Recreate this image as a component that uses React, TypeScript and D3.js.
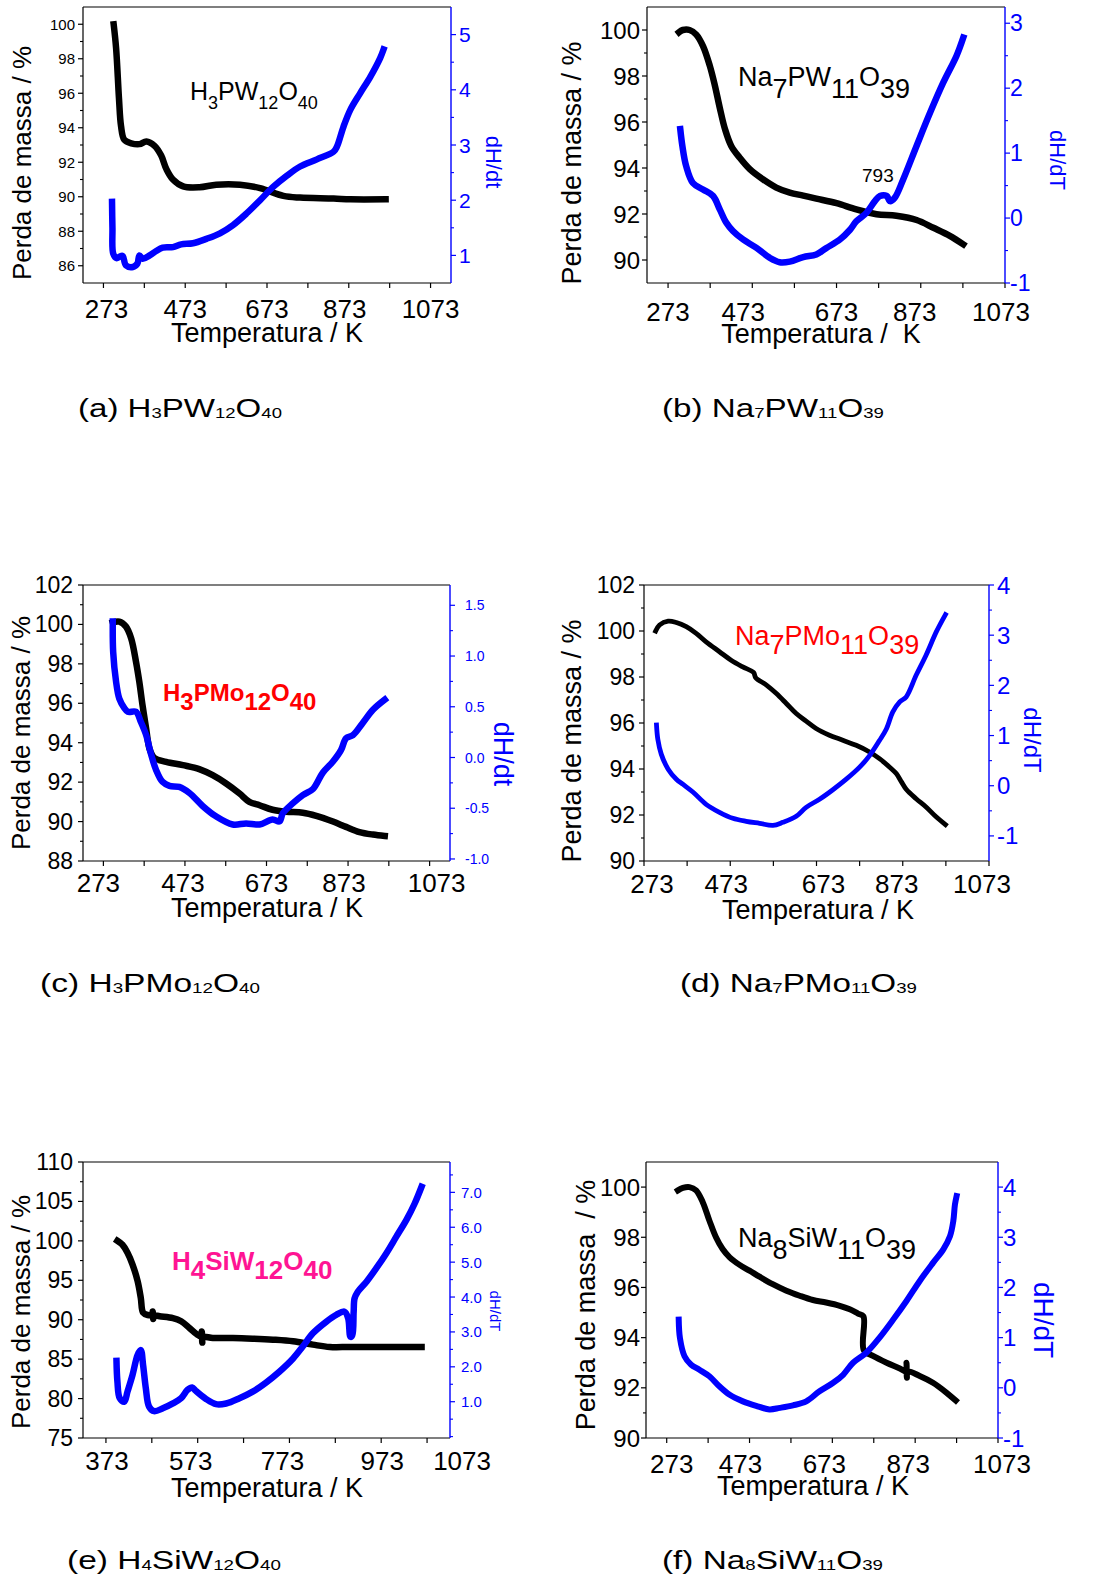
import React, { useLayoutEffect, useRef, useState } from "react";
import * as d3 from "d3";

type Pt = [number, number];

// ---------- (a) H3PW12O40 ----------
const massA: Pt[] = [
  [298, 100.0], [304, 98.6], [311, 95.7], [316, 94.1], [324, 93.3], [341, 93.1], [361, 93.05],
  [378, 93.2], [398, 92.95], [414, 92.4], [427, 91.6], [443, 91.0], [468, 90.6], [508, 90.55],
  [549, 90.7], [607, 90.7], [656, 90.5], [713, 90.05], [754, 89.95], [836, 89.9], [877, 89.85],
  [963, 89.85],
];
const dhA: Pt[] = [
  [294, 1.97], [295, 1.5], [297, 1.03], [305, 0.95], [313, 0.98], [320, 0.99], [328, 0.82],
  [345, 0.79], [356, 0.85], [361, 1.0], [369, 0.94], [386, 1.0], [402, 1.08], [418, 1.14],
  [443, 1.15], [463, 1.2], [492, 1.22], [525, 1.3], [558, 1.4], [590, 1.55], [623, 1.76],
  [656, 2.0], [688, 2.24], [721, 2.44], [754, 2.61], [795, 2.74], [836, 2.88], [844, 2.97],
  [860, 3.33], [877, 3.64], [901, 3.94], [926, 4.24], [950, 4.58], [958, 4.73],
];

// ---------- (b) Na7PW11O39 ----------
const massB: Pt[] = [
  [299, 99.9], [308, 100.0], [324, 100.0], [340, 99.8], [356, 99.3], [372, 98.45], [384, 97.6],
  [396, 96.6], [408, 95.7], [423, 94.96], [443, 94.45], [467, 93.95], [499, 93.5], [530, 93.15],
  [562, 92.93], [594, 92.8], [625, 92.67], [673, 92.47], [720, 92.2], [768, 91.99], [815, 91.92],
  [863, 91.74], [903, 91.4], [942, 91.05], [974, 90.68],
];
const dhB: Pt[] = [
  [302, 1.37], [307, 1.11], [316, 0.8], [332, 0.54], [356, 0.44], [380, 0.34], [396, 0.13],
  [411, -0.07], [427, -0.2], [451, -0.33], [483, -0.46], [514, -0.61], [538, -0.68], [562, -0.67],
  [594, -0.6], [625, -0.56], [649, -0.46], [681, -0.33], [705, -0.18], [720, -0.05], [744, 0.08],
  [764, 0.26], [776, 0.34], [792, 0.34], [800, 0.26], [811, 0.31], [831, 0.59], [863, 1.11],
  [895, 1.62], [926, 2.08], [958, 2.5], [974, 2.78],
];

// ---------- (c) H3PMo12O40 ----------
const massC: Pt[] = [
  [296, 100.1], [312, 100.14], [328, 99.9], [341, 99.3], [353, 98.1], [361, 97.1], [369, 95.9],
  [378, 94.7], [386, 93.7], [398, 93.23], [427, 93.03], [468, 92.86], [508, 92.66], [541, 92.35],
  [574, 91.93], [607, 91.42], [631, 91.0], [656, 90.83], [688, 90.6], [721, 90.5], [762, 90.45],
  [795, 90.29], [836, 90.0], [868, 89.73], [901, 89.47], [934, 89.34], [963, 89.27],
];
const dhC: Pt[] = [
  [296, 1.34], [297, 1.04], [304, 0.75], [312, 0.58], [324, 0.49], [333, 0.45], [353, 0.45],
  [365, 0.35], [378, 0.22], [390, 0.03], [402, -0.12], [418, -0.24], [435, -0.28], [459, -0.29],
  [484, -0.35], [517, -0.48], [549, -0.58], [590, -0.66], [623, -0.65], [656, -0.66], [688, -0.61],
  [705, -0.63], [713, -0.55], [738, -0.45], [762, -0.37], [787, -0.31], [811, -0.15], [836, -0.04],
  [856, 0.075], [868, 0.19], [885, 0.22], [909, 0.34], [934, 0.47], [963, 0.57],
];

// ---------- (d) Na7PMo11O39 ----------
const massD: Pt[] = [
  [300, 100.0], [309, 100.26], [329, 100.43], [348, 100.37], [371, 100.19], [394, 99.9],
  [417, 99.53], [448, 99.1], [475, 98.73], [502, 98.44], [527, 98.2], [532, 97.97], [557, 97.65],
  [580, 97.28], [603, 96.85], [626, 96.41], [649, 96.08], [672, 95.76], [703, 95.47], [734, 95.25],
  [765, 95.03], [796, 94.74], [819, 94.45], [842, 94.09], [858, 93.8], [870, 93.44], [881, 93.12],
  [904, 92.71], [927, 92.35], [951, 91.91], [972, 91.58],
];
const dhD: Pt[] = [
  [302, 1.21], [305, 0.93], [313, 0.63], [329, 0.33], [348, 0.13], [363, 0.03], [387, -0.13],
  [417, -0.37], [448, -0.53], [479, -0.65], [510, -0.71], [541, -0.75], [572, -0.79], [595, -0.73],
  [626, -0.61], [649, -0.43], [680, -0.27], [711, -0.08], [742, 0.13], [773, 0.37], [796, 0.6],
  [819, 0.9], [835, 1.13], [850, 1.47], [866, 1.67], [881, 1.77], [904, 2.2], [927, 2.6],
  [951, 3.07], [972, 3.41],
];

// ---------- (e) H4SiW12O40 ----------
const massE: Pt[] = [
  [398, 100.0], [409, 99.5], [420, 98.5], [431, 97.0], [442, 94.9], [449, 92.76], [454, 90.9],
  [464, 90.6], [474, 90.62], [475, 91.05], [476, 90.1], [477, 90.55], [490, 90.43], [519, 90.2],
  [537, 89.8], [555, 88.95], [570, 88.2], [580, 87.9], [582, 88.5], [583, 87.1], [584, 87.8],
  [606, 87.68], [650, 87.68], [693, 87.6], [737, 87.47], [781, 87.26], [824, 86.84], [861, 86.54],
  [904, 86.54], [977, 86.54], [1061, 86.54],
];
const dhE: Pt[] = [
  [396, 2.17], [398, 1.58], [403, 1.1], [413, 1.0], [420, 1.29], [431, 1.77], [442, 2.34],
  [449, 2.48], [454, 2.05], [460, 1.38], [467, 0.86], [478, 0.73], [497, 0.81], [519, 0.95],
  [537, 1.1], [551, 1.34], [561, 1.41], [569, 1.31], [591, 1.08], [613, 0.93], [635, 0.95],
  [664, 1.1], [693, 1.29], [722, 1.55], [751, 1.86], [781, 2.24], [802, 2.58], [824, 2.96],
  [853, 3.29], [875, 3.49], [893, 3.58], [901, 3.39], [906, 2.86], [910, 2.91], [913, 3.58],
  [915, 3.96], [922, 4.15], [941, 4.44], [962, 4.82], [984, 5.25], [1006, 5.73], [1028, 6.21],
  [1046, 6.68], [1061, 7.16],
];

// ---------- (f) Na8SiW11O39 ----------
const massF: Pt[] = [
  [300, 99.87], [312, 99.97], [328, 100.0], [344, 99.87], [360, 99.4], [376, 98.67], [392, 98.0],
  [408, 97.53], [425, 97.2], [449, 96.9], [473, 96.67], [497, 96.43], [529, 96.13], [562, 95.87],
  [594, 95.67], [626, 95.5], [658, 95.4], [691, 95.27], [715, 95.13], [735, 94.96], [748, 94.85],
  [749, 93.5], [771, 93.27], [804, 93.0], [836, 92.77], [851, 92.65], [852, 93.0], [853, 92.4],
  [855, 92.65], [884, 92.47], [916, 92.2], [949, 91.8], [971, 91.49],
];
const dhF: Pt[] = [
  [302, 1.36], [305, 0.99], [316, 0.63], [332, 0.46], [352, 0.36], [376, 0.23], [400, 0.03],
  [425, -0.14], [457, -0.27], [489, -0.36], [521, -0.43], [546, -0.4], [578, -0.35], [610, -0.27],
  [642, -0.07], [675, 0.1], [699, 0.26], [723, 0.5], [755, 0.7], [787, 1.0], [820, 1.36],
  [852, 1.73], [884, 2.13], [916, 2.49], [941, 2.76], [957, 3.02], [965, 3.32], [969, 3.65],
  [973, 3.82],
];

// ---------- tick labels ----------
const tempTicks = [273, 473, 673, 873, 1073];
const tempMinor = [373, 573, 773, 973];
const tempTicksE = [373, 573, 773, 973, 1073];
const tempMinorE = [473, 673, 873];

const massTicksA = [86, 88, 90, 92, 94, 96, 98, 100];
const massTicksB = [90, 92, 94, 96, 98, 100];
const massTicksC = [88, 90, 92, 94, 96, 98, 100, 102];
const massTicksD = [90, 92, 94, 96, 98, 100, 102];
const massTicksE = [75, 80, 85, 90, 95, 100, 105, 110];
const massTicksF = [90, 92, 94, 96, 98, 100];

const dhTicksA = [1, 2, 3, 4, 5];
const dhTicksB = [-1, 0, 1, 2, 3];
const dhTicksC = [-1.0, -0.5, 0.0, 0.5, 1.0, 1.5];
const dhTicksD = [-1, 0, 1, 2, 3, 4];
const dhTicksE = [1.0, 2.0, 3.0, 4.0, 5.0, 6.0, 7.0];
const dhTicksF = [-1, 0, 1, 2, 3, 4];

const BLUE = "#0000ff";
const FONT = "'Liberation Sans', Arial, Helvetica, sans-serif";

interface FormulaSpec {
  text: string;
  x: number;
  y: number;
  size: number;
  subScale: number;
  subDy: number;
  fill: string;
  weight?: string;
  length?: number;
}

interface PanelSpec {
  left: number; right: number; top: number; bottom: number;
  xDomain: [number, number]; yDomain: [number, number]; y2Domain: [number, number];
  xTicks: number[]; xMinor: number[]; xLabelDx: number[];
  yTicks: number[]; yMinorStep: number;
  y2Ticks: number[]; y2MinorStep: number; y2Fmt: (v: number) => string;
  yTickSize: number; yTickGap: number; y2TickSize: number; y2TickGap: number;
  xLabelY: number; xTitle: string; xTitleX: number; xTitleY: number;
  yTitle: string; yTitleX: number; yTitleY: number; yTitleSize: number;
  y2Title: string; y2TitleX: number; y2TitleY: number; y2TitleSize: number;
  mass: Pt[]; dh: Pt[]; lineW: number;
  formula: FormulaSpec;
  caption: FormulaSpec;
  notes?: { text: string; x: number; y: number; size: number }[];
}

const intFmt = (v: number) => d3.format("d")(v).replace("\u2212", "-");
const oneDec = (v: number) => d3.format(".1f")(v).replace("\u2212", "-");

// Chemical formula: digit runs become subscripts; optional stretch to a target width
function Formula({ f }: { f: FormulaSpec }) {
  const ref = useRef<SVGTextElement>(null);
  const [sx, setSx] = useState(1);
  useLayoutEffect(() => {
    if (!f.length || !ref.current) return;
    const w = ref.current.getBBox().width;
    if (w > 0) setSx(f.length / w);
  }, [f.length, f.text]);

  const runs = f.text.match(/\d+|\D+/g) || [];
  let shifted = false;
  const parts = runs.map((r, i) => {
    const isSub = /^\d+$/.test(r) && i > 0;
    let dy = 0;
    if (isSub && !shifted) { dy = f.subDy; shifted = true; }
    else if (!isSub && shifted) { dy = -f.subDy; shifted = false; }
    return (
      <tspan key={i} fontSize={isSub ? f.size * f.subScale : f.size} dy={dy}>
        {r}
      </tspan>
    );
  });
  return (
    <g transform={`translate(${f.x},${f.y}) scale(${sx},1)`}>
      <text
        ref={ref}
        x={0}
        y={0}
        fill={f.fill}
        fontWeight={f.weight || "normal"}
        fontSize={f.size}
        fontFamily={FONT}
        style={{ whiteSpace: "pre" }}
      >
        {parts}
      </text>
    </g>
  );
}

function minorTicks(domain: [number, number], step: number, majors: number[]) {
  const lo = Math.ceil(domain[0] / step - 1e-9) * step;
  const out: number[] = [];
  for (let v = lo; v <= domain[1] + 1e-9; v += step) {
    const vv = Math.round(v * 1000) / 1000;
    if (vv <= domain[0] + 1e-6 || vv >= domain[1] - 1e-6) continue;
    if (majors.some((m) => Math.abs(m - vv) < 1e-6)) continue;
    out.push(vv);
  }
  return out;
}

function Panel({ p }: { p: PanelSpec }) {
  const x = d3.scaleLinear().domain(p.xDomain).range([p.left, p.right]);
  const y = d3.scaleLinear().domain(p.yDomain).range([p.bottom, p.top]);
  const y2 = d3.scaleLinear().domain(p.y2Domain).range([p.bottom, p.top]);
  const curve = d3.curveCatmullRom.alpha(0.5);
  const massLine = d3.line<Pt>().x((d) => x(d[0])).y((d) => y(d[1])).curve(curve);
  const dhLine = d3.line<Pt>().x((d) => x(d[0])).y((d) => y2(d[1])).curve(curve);
  const yMinor = minorTicks(p.yDomain, p.yMinorStep, p.yTicks);
  const y2Minor = minorTicks(p.y2Domain, p.y2MinorStep, p.y2Ticks);
  const MAJ = 5;
  const MIN = 3;

  return (
    <g fontFamily={FONT}>
      {/* curves */}
      <path d={massLine(p.mass) || ""} fill="none" stroke="#000" strokeWidth={p.lineW}
        strokeLinejoin="round" strokeLinecap="square" />
      <path d={dhLine(p.dh) || ""} fill="none" stroke={BLUE} strokeWidth={p.lineW}
        strokeLinejoin="round" strokeLinecap="square" />

      {/* frame */}
      <line x1={p.left} x2={p.right} y1={p.top} y2={p.top} stroke="#000" strokeWidth={1.2} />
      <line x1={p.left} x2={p.right} y1={p.bottom} y2={p.bottom} stroke="#000" strokeWidth={1.2} />
      <line x1={p.left} x2={p.left} y1={p.top} y2={p.bottom} stroke="#000" strokeWidth={1.2} />
      <line x1={p.right} x2={p.right} y1={p.top} y2={p.bottom} stroke={BLUE} strokeWidth={1.4} />

      {/* bottom axis */}
      {[...p.xTicks, ...p.xMinor].map((t) => (
        <line key={"xt" + t} x1={x(t)} x2={x(t)} y1={p.bottom} y2={p.bottom + MAJ} stroke="#000" strokeWidth={1.2} />
      ))}
      {p.xTicks.map((t, i) => (
        <text key={"xl" + t} x={x(t) + (p.xLabelDx[i] || 0)} y={p.xLabelY} fontSize={26}
          textAnchor="middle" fill="#000">
          {t}
        </text>
      ))}
      <text x={p.xTitleX} y={p.xTitleY} fontSize={27} textAnchor="middle" fill="#000"
        style={{ whiteSpace: "pre" }}>
        {p.xTitle}
      </text>

      {/* left axis */}
      {p.yTicks.map((t) => (
        <g key={"yt" + t}>
          <line x1={p.left - MAJ} x2={p.left} y1={y(t)} y2={y(t)} stroke="#000" strokeWidth={1.2} />
          <text x={p.left - p.yTickGap} y={y(t)} fontSize={p.yTickSize} textAnchor="end"
            dominantBaseline="central" fill="#000">
            {t}
          </text>
        </g>
      ))}
      {yMinor.map((t) => (
        <line key={"ym" + t} x1={p.left - MIN} x2={p.left} y1={y(t)} y2={y(t)} stroke="#000" strokeWidth={1.1} />
      ))}
      <text transform={`translate(${p.yTitleX},${p.yTitleY}) rotate(-90)`} fontSize={p.yTitleSize}
        textAnchor="middle" dominantBaseline="central" fill="#000" style={{ whiteSpace: "pre" }}>
        {p.yTitle}
      </text>

      {/* right axis */}
      {p.y2Ticks.map((t) => (
        <g key={"y2t" + t}>
          <line x1={p.right} x2={p.right + MAJ} y1={y2(t)} y2={y2(t)} stroke={BLUE} strokeWidth={1.2} />
          <text x={p.right + p.y2TickGap} y={y2(t)} fontSize={p.y2TickSize} textAnchor="start"
            dominantBaseline="central" fill={BLUE}>
            {p.y2Fmt(t)}
          </text>
        </g>
      ))}
      {y2Minor.map((t) => (
        <line key={"y2m" + t} x1={p.right} x2={p.right + MIN} y1={y2(t)} y2={y2(t)} stroke={BLUE} strokeWidth={1.1} />
      ))}
      <text transform={`translate(${p.y2TitleX},${p.y2TitleY}) rotate(90)`} fontSize={p.y2TitleSize}
        textAnchor="middle" dominantBaseline="central" fill={BLUE}>
        {p.y2Title}
      </text>

      <Formula f={p.formula} />
      {(p.notes || []).map((n, i) => (
        <text key={"n" + i} x={n.x} y={n.y} fontSize={n.size} fill="#000">{n.text}</text>
      ))}
      <Formula f={p.caption} />
    </g>
  );
}

const YT = "Perda de massa / %";
const XT = "Temperatura / K";

const panels: PanelSpec[] = [
  {
    left: 83, right: 451, top: 7, bottom: 283,
    xDomain: [223, 1123], yDomain: [85, 101], y2Domain: [0.5, 5.5],
    xTicks: tempTicks, xMinor: tempMinor, xLabelDx: [3, 0, 0, -4, 0],
    yTicks: massTicksA, yMinorStep: 1, y2Ticks: dhTicksA, y2MinorStep: 0.5, y2Fmt: intFmt,
    yTickSize: 15, yTickGap: 8, y2TickSize: 21, y2TickGap: 8,
    xLabelY: 318, xTitle: XT, xTitleX: 267, xTitleY: 342,
    yTitle: YT, yTitleX: 22, yTitleY: 163, yTitleSize: 26,
    y2Title: "dH/dt", y2TitleX: 493, y2TitleY: 162, y2TitleSize: 22,
    mass: massA, dh: dhA, lineW: 6.5,
    formula: { text: "H3PW12O40", x: 190, y: 100, size: 25, subScale: 0.72, subDy: 9, fill: "#000" },
    caption: { text: "(a) H3PW12O40", x: 78, y: 417, size: 26, subScale: 0.56, subDy: 1, fill: "#000", length: 204 },
  },
  {
    left: 647, right: 1005, top: 7, bottom: 283,
    xDomain: [223, 1073], yDomain: [89, 101], y2Domain: [-1, 3.25],
    xTicks: tempTicks, xMinor: tempMinor, xLabelDx: [0, -9, 0, -6, -4],
    yTicks: massTicksB, yMinorStep: 1, y2Ticks: dhTicksB, y2MinorStep: 0.5, y2Fmt: intFmt,
    yTickSize: 24, yTickGap: 7, y2TickSize: 23, y2TickGap: 5,
    xLabelY: 321, xTitle: "Temperatura /\u00a0 K", xTitleX: 821, xTitleY: 343,
    yTitle: YT, yTitleX: 572, yTitleY: 163, yTitleSize: 27,
    y2Title: "dH/dT", y2TitleX: 1057, y2TitleY: 160, y2TitleSize: 22,
    mass: massB, dh: dhB, lineW: 6.5,
    formula: { text: "Na7PW11O39", x: 738, y: 86, size: 27, subScale: 1, subDy: 12, fill: "#000" },
    caption: { text: "(b) Na7PW11O39", x: 662, y: 417, size: 26, subScale: 0.56, subDy: 1, fill: "#000", length: 222 },
    notes: [{ text: "793", x: 862, y: 182, size: 19 }],
  },
  {
    left: 83, right: 450, top: 585, bottom: 861,
    xDomain: [223, 1123], yDomain: [88, 102], y2Domain: [-1.02, 1.7],
    xTicks: tempTicks, xMinor: tempMinor, xLabelDx: [-5, -2, 0, -4, 7],
    yTicks: massTicksC, yMinorStep: 1, y2Ticks: dhTicksC, y2MinorStep: 0.25, y2Fmt: oneDec,
    yTickSize: 23, yTickGap: 10, y2TickSize: 14, y2TickGap: 15,
    xLabelY: 892, xTitle: XT, xTitleX: 267, xTitleY: 917,
    yTitle: YT, yTitleX: 21, yTitleY: 733, yTitleSize: 26,
    y2Title: "dH/dt", y2TitleX: 503, y2TitleY: 754, y2TitleSize: 27,
    mass: massC, dh: dhC, lineW: 6.5,
    formula: { text: "H3PMo12O40", x: 163, y: 701, size: 24, subScale: 1, subDy: 9, fill: "#ff0000", weight: "bold" },
    caption: { text: "(c) H3PMo12O40", x: 40, y: 992, size: 26, subScale: 0.56, subDy: 1, fill: "#000", length: 220 },
  },
  {
    left: 644, right: 989, top: 585, bottom: 861,
    xDomain: [273, 1073], yDomain: [90, 102], y2Domain: [-1.5, 4],
    xTicks: tempTicks, xMinor: tempMinor, xLabelDx: [8, -4, 7, -6, -7],
    yTicks: massTicksD, yMinorStep: 1, y2Ticks: dhTicksD, y2MinorStep: 0.5, y2Fmt: intFmt,
    yTickSize: 23, yTickGap: 9, y2TickSize: 24, y2TickGap: 8,
    xLabelY: 893, xTitle: XT, xTitleX: 818, xTitleY: 919,
    yTitle: YT, yTitleX: 572, yTitleY: 741, yTitleSize: 27,
    y2Title: "dH/dT", y2TitleX: 1032, y2TitleY: 740, y2TitleSize: 24,
    mass: massD, dh: dhD, lineW: 4.8,
    formula: { text: "Na7PMo11O39", x: 735, y: 645, size: 27, subScale: 1, subDy: 9, fill: "#ff0000" },
    caption: { text: "(d) Na7PMo11O39", x: 680, y: 992, size: 26, subScale: 0.56, subDy: 1, fill: "#000", length: 237 },
  },
  {
    left: 83, right: 450, top: 1162, bottom: 1438,
    xDomain: [323, 1123], yDomain: [75, 110], y2Domain: [-0.04, 7.87],
    xTicks: tempTicksE, xMinor: tempMinorE, xLabelDx: [1, -7, -7, 1, 35],
    yTicks: massTicksE, yMinorStep: 2.5, y2Ticks: dhTicksE, y2MinorStep: 0.5, y2Fmt: oneDec,
    yTickSize: 23, yTickGap: 10, y2TickSize: 15, y2TickGap: 11,
    xLabelY: 1470, xTitle: XT, xTitleX: 267, xTitleY: 1497,
    yTitle: YT, yTitleX: 21, yTitleY: 1312, yTitleSize: 26,
    y2Title: "dH/dT", y2TitleX: 495, y2TitleY: 1311, y2TitleSize: 15,
    mass: massE, dh: dhE, lineW: 6.5,
    formula: { text: "H4SiW12O40", x: 172, y: 1270, size: 26, subScale: 1, subDy: 9, fill: "#ff1493", weight: "bold" },
    caption: { text: "(e) H4SiW12O40", x: 67, y: 1569, size: 26, subScale: 0.56, subDy: 1, fill: "#000", length: 214 },
  },
  {
    left: 646, right: 998, top: 1162, bottom: 1438,
    xDomain: [223, 1073], yDomain: [90, 101], y2Domain: [-1, 4.5],
    xTicks: tempTicks, xMinor: tempMinor, xLabelDx: [5, -9, -8, -7, 4],
    yTicks: massTicksF, yMinorStep: 1, y2Ticks: dhTicksF, y2MinorStep: 0.5, y2Fmt: intFmt,
    yTickSize: 24, yTickGap: 6, y2TickSize: 24, y2TickGap: 5,
    xLabelY: 1473, xTitle: XT, xTitleX: 813, xTitleY: 1495,
    yTitle: "Perda de massa\u00a0 / %", yTitleX: 586, yTitleY: 1305, yTitleSize: 27,
    y2Title: "dH/dT", y2TitleX: 1043, y2TitleY: 1320, y2TitleSize: 28,
    mass: massF, dh: dhF, lineW: 6,
    formula: { text: "Na8SiW11O39", x: 738, y: 1247, size: 27, subScale: 1, subDy: 12, fill: "#000" },
    caption: { text: "(f) Na8SiW11O39", x: 662, y: 1569, size: 26, subScale: 0.56, subDy: 1, fill: "#000", length: 221 },
  },
];

export default function App() {
  return (
    <svg width={1104} height={1580} viewBox="0 0 1104 1580"
      style={{ position: "absolute", left: 0, top: 0, background: "#fff" }}>
      <rect x={0} y={0} width={1104} height={1580} fill="#fff" />
      {panels.map((p, i) => (
        <Panel key={i} p={p} />
      ))}
    </svg>
  );
}
